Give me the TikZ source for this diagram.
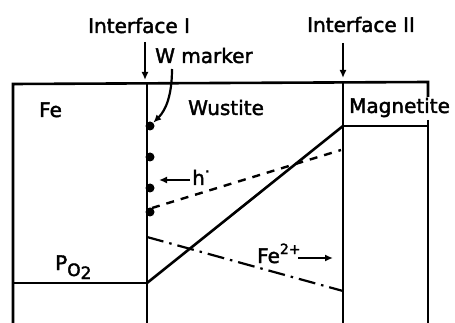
\documentclass[tikz,border=0pt]{standalone}
\usepackage{fontspec}
\setmainfont{DejaVu Sans}
\newfontfamily\lblfont{DejaVu Sans}[FakeBold=2]
\usetikzlibrary{arrows.meta}
\tikzset{
  lbl/.style={inner sep=0pt, anchor=base west, font=\fontsize{20}{24}\lblfont},
  wall/.style={line width=2.6pt},
  arr/.style={line width=2.2pt,-{Latex[length=8pt,width=7pt]}},
  dotm/.style={circle, fill=black, inner sep=0pt, minimum size=9pt}
}
\begin{document}
\begin{tikzpicture}[x=1pt,y=-1pt]
\useasboundingbox (0,0) rectangle (455,323);
% frame coordinates
\coordinate (TL) at (13,84);
\coordinate (BL) at (13,323);
\coordinate (I1t) at (147,83);
\coordinate (I1b) at (147,323);
\coordinate (I2t) at (343,82);
\coordinate (I2b) at (343,323);
\coordinate (TR) at (428,82);
\coordinate (R1) at (428,97);
\coordinate (R2) at (428,120);
\coordinate (BR) at (428,323);
\coordinate (Mg) at (343,126);
\coordinate (MgR) at (428,126);
\coordinate (Po) at (147,283);
\coordinate (PoL) at (13,283);
% frame
\draw[wall] (BL) -- (TL) -- (TR) -- (R1);
\draw[wall] (R2) -- (BR);
\draw[wall] (I1t) -- (I1b);
\draw[wall] (I2t) -- (I2b);
\draw[wall] (Mg) -- (MgR);
\draw[wall] (PoL) -- (Po);
\draw[wall] (Po) -- (Mg);
% dashed and dash-dot
\coordinate (d1) at (152,208);
\coordinate (d2) at (341,150);
\draw[line width=2.4pt, dash pattern=on 8pt off 7pt] (d1) -- (d2);
\coordinate (e1) at (147,237);
\coordinate (e2) at (343,291);
\draw[line width=2.2pt, dash pattern=on 17pt off 6pt on 2.5pt off 6pt] (e1) -- (e2);
% dots
\node[dotm] (m1) at (150,126) {};
\node[dotm] (m2) at (150,157) {};
\node[dotm] (m3) at (150,188) {};
\node[dotm] (m4) at (150,212) {};
% labels
\node[lbl] (if1) at (88,33) {Interface I};
\node[lbl] (if2) at (307,32) {Interface II};
\node[lbl] (wm) at (155,63) {W marker};
\node[lbl] (fe) at (39,117) {Fe};
\node[lbl] (wu) at (188,115) {Wustite};
\node[lbl] (mag) at (349,113) {Magnetite};
\node[lbl] (h) at (192,185) {h\raisebox{8pt}{\fontsize{16}{16}\selectfont\textperiodcentered}};
\node[lbl] (po) at (55,270) {P\raisebox{-6pt}{\fontsize{17}{17}\selectfont O\raisebox{-3pt}{2}}};
\node[lbl] (fe2) at (257,263) {Fe\raisebox{9pt}{\fontsize{14}{14}\selectfont 2+}};
% arrows
\coordinate (a1s) at (145,42);
\coordinate (a1e) at (145,80);
\draw[arr] (a1s) -- (a1e);
\coordinate (a2s) at (343,43);
\coordinate (a2e) at (343,78);
\draw[arr] (a2s) -- (a2e);
\coordinate (ws) at (172,69);
\draw[arr] (ws) .. controls (172,95) and (166,110) .. (m1.north east);
\coordinate (hs) at (190,180);
\coordinate (he) at (159,180);
\draw[arr] (hs) -- (he);
\coordinate (fs) at (298,258);
\coordinate (fe2e) at (333,258);
\draw[arr] (fs) -- (fe2e);
\end{tikzpicture}
\end{document}
